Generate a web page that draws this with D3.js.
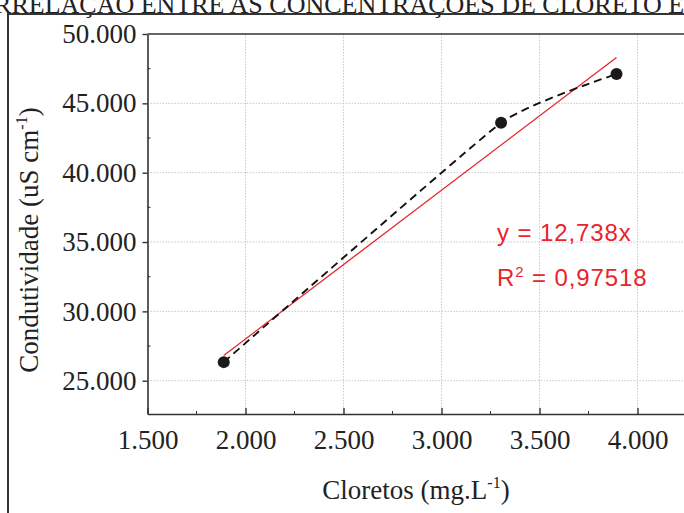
<!DOCTYPE html>
<html>
<head>
<meta charset="utf-8">
<script src="https://cdn.jsdelivr.net/npm/d3@7"></script>
<style>
  body { margin: 0; background: #fff; }
  svg { display: block; }
</style>
</head>
<body>
<div id="plot"></div>
<script>
// measured points (cloretos, condutividade)
var cloretos = [1889, 3304, 3893];
var condutividade = [26340, 43600, 47110];

// linear trend line ends as drawn
var trendX = [1889, 3893];
var trendY = [26820, 48310];

var xTicks = [1500, 2000, 2500, 3000, 3500, 4000];
var yTicks = [25000, 30000, 35000, 40000, 45000, 50000];
var xMinor = [1750, 2250, 2750, 3250, 3750, 4250];
var yMinor = [22500, 27500, 32500, 37500, 42500, 47500];

var eqLines = ["y = 12,738x", "R\u00b2 = 0,97518"];

var width = 684, height = 513;

var x = d3.scaleLinear().domain([1500, 4300]).range([147.5, 696.3]);
var y = d3.scaleLinear().domain([22600, 50000]).range([414, 34]);

var fmt = function (d) { return d3.format(".3f")(d / 1000); };
var serif = '"Liberation Serif", "Times New Roman", serif';

var svg = d3.select('#plot')
  .append('svg')
  .attr('width', width)
  .attr('height', height);

// title of the figure, clipped by the page edge as in the source
svg.append('text')
  .attr('x', -42)
  .attr('y', 13)
  .style('font-family', serif)
  .style('font-size', '26px')
  .style('fill', '#222')
  .text('CORRELAÇÃO ENTRE AS CONCENTRAÇÕES DE CLORETO E CONDUTIVIDADE');

// outer frame
svg.append('path')
  .attr('d', 'M8,' + (height + 5) + 'V14H' + (width + 5))
  .style('fill', 'none')
  .style('stroke', '#333')
  .style('stroke-width', 2);

var grid = svg.append('g');

grid.selectAll('.vgrid')
  .data(xTicks.slice(1))
  .enter().append('line')
    .attr('x1', function (d) { return x(d); })
    .attr('x2', function (d) { return x(d); })
    .attr('y1', y.range()[1])
    .attr('y2', y.range()[0])
    .style('stroke', '#c8c8c8')
    .style('stroke-dasharray', '1.5,1.5');

grid.selectAll('.hgrid')
  .data(yTicks.slice(0, -1))
  .enter().append('line')
    .attr('x1', x.range()[0])
    .attr('x2', x.range()[1])
    .attr('y1', function (d) { return y(d); })
    .attr('y2', function (d) { return y(d); })
    .style('stroke', '#c8c8c8')
    .style('stroke-dasharray', '1.5,1.5');

// axes
var xAxis = d3.axisBottom(x).tickValues(xTicks).tickFormat(fmt).tickSizeInner(-6).tickSizeOuter(0).tickPadding(16);
var yAxis = d3.axisLeft(y).tickValues(yTicks).tickFormat(fmt).tickSizeInner(5).tickSizeOuter(0).tickPadding(6);

var gx = svg.append('g')
  .attr('transform', 'translate(0,' + y.range()[0] + ')')
  .call(xAxis);

var gy = svg.append('g')
  .attr('transform', 'translate(' + x.range()[0] + ',0)')
  .call(yAxis);

[gx, gy].forEach(function (g) {
  g.select('.domain').style('stroke', '#333').style('stroke-width', 1.6);
  g.selectAll('.tick line').style('stroke', '#333').style('stroke-width', 1.4);
  g.selectAll('.tick text')
    .style('font-family', serif)
    .style('font-size', '27px')
    .style('fill', '#222');
});

gx.selectAll('.minor')
  .data(xMinor)
  .enter().append('line')
    .attr('x1', function (d) { return x(d); })
    .attr('x2', function (d) { return x(d); })
    .attr('y1', 0)
    .attr('y2', -3)
    .style('stroke', '#333');

gy.selectAll('.minor')
  .data(yMinor.filter(function (d) { return d > y.domain()[0]; }))
  .enter().append('line')
    .attr('y1', function (d) { return y(d); })
    .attr('y2', function (d) { return y(d); })
    .attr('x1', 0)
    .attr('x2', 3)
    .style('stroke', '#333');

// top border of plot area
svg.append('line')
  .attr('x1', x.range()[0])
  .attr('x2', x.range()[1])
  .attr('y1', y.range()[1])
  .attr('y2', y.range()[1])
  .style('stroke', '#333')
  .style('stroke-width', 1.6);

// axis titles
var xt = svg.append('text')
  .attr('x', 416)
  .attr('y', 499)
  .attr('text-anchor', 'middle')
  .style('font-family', serif)
  .style('font-size', '27px')
  .style('fill', '#222');
xt.append('tspan').text('Cloretos (mg.L');
xt.append('tspan').attr('dy', -11).style('font-size', '16px').text('-1');
xt.append('tspan').attr('dy', 11).text(')');

var yt = svg.append('text')
  .attr('transform', 'translate(38,240) rotate(-90)')
  .attr('text-anchor', 'middle')
  .style('font-family', serif)
  .style('font-size', '27px')
  .style('fill', '#222');
yt.append('tspan').text('Condutividade (uS cm');
yt.append('tspan').attr('dy', -11).style('font-size', '16px').text('-1');
yt.append('tspan').attr('dy', 11).text(')');

var data = cloretos.map(function (d, i) { return [d, condutividade[i]]; });

// linear trend
var trend = trendX.map(function (d, i) { return [d, trendY[i]]; });
var line = d3.line()
  .x(function (d) { return x(d[0]); })
  .y(function (d) { return y(d[1]); });

svg.append('path')
  .datum(trend)
  .attr('d', line)
  .style('fill', 'none')
  .style('stroke', '#e8242c')
  .style('stroke-width', 1.3);

// dashed smooth curve through the points
svg.append('path')
  .datum(data)
  .attr('d', line.curve(d3.curveCardinal.tension(0.6)))
  .style('fill', 'none')
  .style('stroke', '#111')
  .style('stroke-width', 1.9)
  .style('stroke-dasharray', '8,5');

svg.selectAll('.dot')
  .data(data)
  .enter().append('circle')
    .attr('cx', function (d) { return x(d[0]); })
    .attr('cy', function (d) { return y(d[1]); })
    .attr('r', 6)
    .style('fill', '#1a1a1a');

// equation
var eq = svg.append('g')
  .style('font-family', '"Liberation Sans", Arial, Helvetica, sans-serif')
  .style('font-size', '24px')
  .style('letter-spacing', '0.9px')
  .style('fill', '#e8242c');

eq.append('text').attr('x', 497).attr('y', 241).text(eqLines[0]);
var r2 = eq.append('text').attr('x', 497).attr('y', 286);
r2.append('tspan').text('R');
r2.append('tspan').attr('dy', -9).style('font-size', '15px').text('2');
r2.append('tspan').attr('dy', 9).text(eqLines[1].slice(2));
</script>
</body>
</html>
